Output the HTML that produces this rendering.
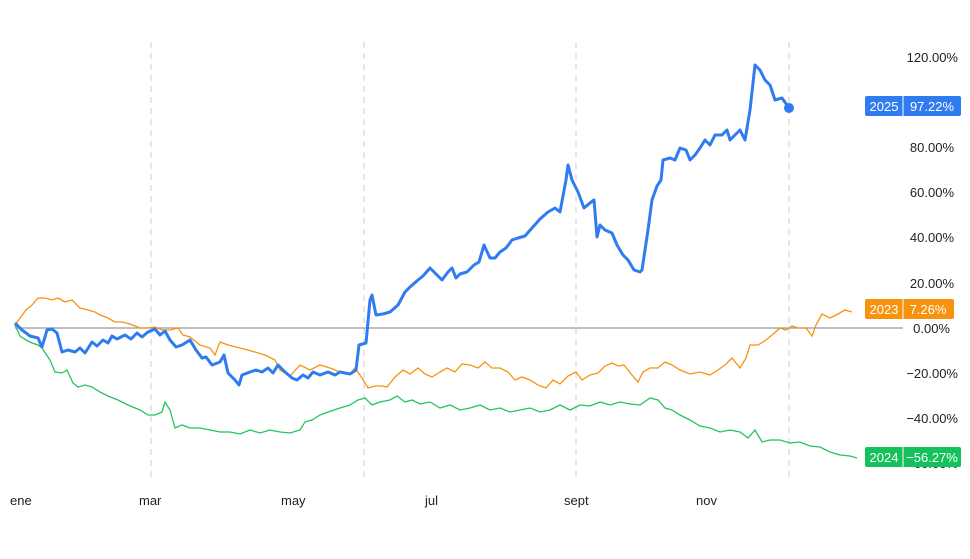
<!DOCTYPE html><html><head><style>body{margin:0;background:#fff}svg{display:block;font-family:"Liberation Sans",sans-serif}</style></head><body>
<svg width="970" height="559" viewBox="0 0 970 559">
<g stroke="#d8d8dc" stroke-dasharray="6,5" stroke-width="1.3"><line x1="151" y1="42" x2="151" y2="480"/><line x1="364" y1="42" x2="364" y2="480"/><line x1="576" y1="42" x2="576" y2="480"/><line x1="789" y1="42" x2="789" y2="480"/></g>
<line x1="15" y1="328" x2="903" y2="328" stroke="#9598a8" stroke-width="1.2"/>
<g font-size="13" fill="#222" text-anchor="end"><text x="958" y="62">120.00%</text><text x="954" y="152">80.00%</text><text x="954" y="197">60.00%</text><text x="954" y="242">40.00%</text><text x="954" y="288">20.00%</text><text x="950" y="333">0.00%</text><text x="958" y="378">−20.00%</text><text x="958" y="423">−40.00%</text><text x="958" y="468">−60.00%</text></g>
<g font-size="13" fill="#222"><text x="10" y="505">ene</text><text x="139" y="505">mar</text><text x="281" y="505">may</text><text x="425" y="505">jul</text><text x="564" y="505">sept</text><text x="696" y="505">nov</text></g>
<polyline fill="none" stroke="#22c55e" stroke-width="1.3" points="15,325 20,336 26,340 32,343 38,345 42,348 50,360 55,372 62,373 67,370 73,383 78,387 85,385 92,387 100,392 108,396 118,400 128,405 140,410 148,415 155,415 162,412 165,402 170,410 175,428 182,425 190,428 200,428 210,430 220,432 230,432 240,434 250,430 260,433 270,430 280,432 290,433 300,430 305,422 312,420 320,415 328,412 340,408 350,405 358,400 365,398 372,405 380,402 390,400 397,396 405,402 412,400 420,404 430,402 440,408 450,405 460,410 470,408 480,405 490,410 500,408 510,412 520,410 530,408 540,412 550,410 560,405 570,410 580,405 590,406 600,402 610,405 620,402 630,404 640,405 650,398 658,400 665,408 672,410 680,415 690,420 700,426 710,428 720,432 730,430 740,432 748,438 755,430 762,442 770,440 780,440 790,443 800,442 810,446 820,447 830,452 840,455 850,456 857,458"/>
<polyline fill="none" stroke="#f7930f" stroke-width="1.3" points="15,325 20,318 26,310 32,305 38,298 45,298 52,300 58,298 65,302 72,300 80,308 88,310 95,312 100,315 108,318 115,322 122,322 130,324 140,328 148,328 155,327 162,330 170,330 178,328 183,335 190,337 200,345 210,348 215,355 220,342 228,345 240,348 255,352 265,355 275,360 280,370 290,376 300,365 310,370 320,365 330,368 340,372 350,374 355,368 362,378 368,388 375,386 382,386 387,387 395,377 403,370 410,374 418,368 425,374 432,377 440,372 447,368 455,372 462,364 470,365 478,368 485,362 492,368 500,368 508,372 515,380 522,377 530,380 538,385 546,388 553,380 560,384 568,376 576,372 582,380 590,375 598,373 605,366 612,363 618,366 624,365 632,375 638,382 643,372 650,368 658,368 665,362 672,365 680,370 690,374 700,372 710,375 718,370 725,365 732,358 740,368 746,358 750,345 758,345 766,340 772,335 780,328 786,330 792,326 798,328 806,328 812,336 816,325 822,314 830,318 838,314 845,310 852,312"/>
<polyline fill="none" stroke="#2f7bf0" stroke-width="3" stroke-linejoin="round" points="15,323 22,330 30,336 38,338 42,347 47,330 52,329 57,333 62,352 68,350 75,352 80,348 85,353 92,342 97,346 103,340 108,343 112,336 117,339 125,335 131,339 137,333 142,337 148,332 155,329 160,335 165,331 170,340 176,347 182,345 190,340 196,350 202,358 206,357 212,365 220,362 224,355 228,373 235,380 239,385 242,375 250,372 256,370 262,372 268,368 273,373 278,365 285,372 292,378 297,380 303,375 308,378 313,372 320,375 328,372 335,375 340,372 350,374 356,370 359,345 366,343 370,300 372,295 376,315 383,314 390,312 398,305 405,292 410,287 418,280 423,276 430,268 436,274 442,280 448,272 452,268 456,278 460,274 467,272 474,265 479,262 484,245 490,258 495,258 500,252 506,248 512,240 518,238 525,236 532,228 540,219 548,212 555,208 560,212 566,180 568,165 572,180 578,192 584,208 590,203 594,200 597,237 600,225 605,230 612,233 617,245 623,255 628,260 634,270 640,272 642,270 648,230 652,200 657,186 661,180 663,160 670,158 675,160 680,148 686,150 690,160 695,155 700,148 705,140 710,145 715,135 722,135 727,130 730,140 735,135 740,130 745,140 750,110 755,65 760,70 765,80 770,85 775,100 782,98 789,108"/>
<circle cx="789" cy="108" r="5" fill="#2f7bf0"/>
<g font-size="13" fill="#fff" text-anchor="middle">
<rect x="865" y="96" width="96" height="20" rx="2" fill="#2f7bf0"/><line x1="903" y1="96" x2="903" y2="116" stroke="#fff"/><text x="884" y="111">2025</text><text x="932" y="111">97.22%</text>
<rect x="865" y="299" width="89" height="20" rx="2" fill="#f7930f"/><line x1="903" y1="299" x2="903" y2="319" stroke="#fff"/><text x="884" y="314">2023</text><text x="928" y="314">7.26%</text>
<rect x="865" y="447" width="96" height="20" rx="2" fill="#14c15a"/><line x1="903" y1="447" x2="903" y2="467" stroke="#fff"/><text x="884" y="462">2024</text><text x="932" y="462">−56.27%</text>
</g>
</svg></body></html>
